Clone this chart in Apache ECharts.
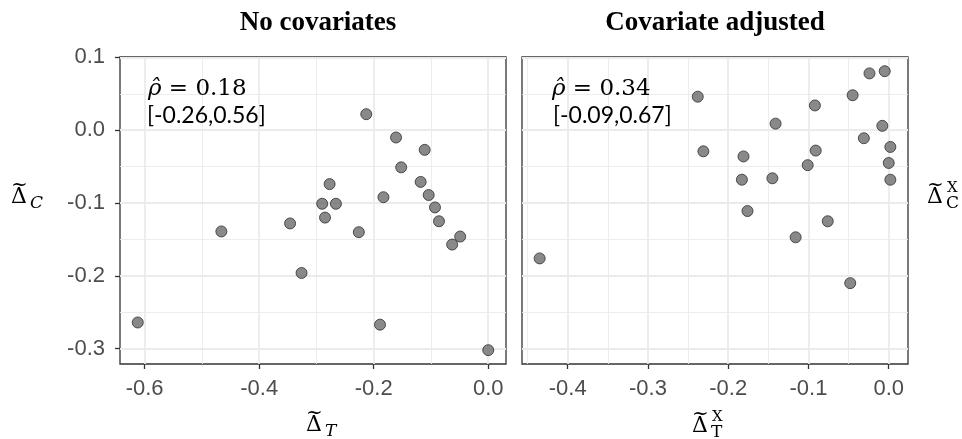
<!DOCTYPE html>
<html>
<head>
<meta charset="utf-8">
<script src="https://cdn.jsdelivr.net/npm/echarts@6/dist/echarts.min.js"></script>
<style>
html, body { margin: 0; padding: 0; background: #fff; }
#chart { width: 962px; height: 439px; }
</style>
</head>
<body>
<div id="chart"></div>
<script>
// no covariates panel
var rawT = [-0.213, -0.161, -0.111, -0.152, -0.118, -0.277, -0.104, -0.183, -0.290, -0.266, -0.093,
            -0.086, -0.285, -0.346, -0.466, -0.226, -0.049, -0.063, -0.326, -0.612, -0.189, 0.000];
var rawC = [0.022, -0.010, -0.027, -0.051, -0.071, -0.074, -0.089, -0.092, -0.101, -0.101, -0.106,
            -0.125, -0.120, -0.128, -0.139, -0.140, -0.146, -0.157, -0.196, -0.264, -0.267, -0.302];
// covariate adjusted panel
var adjT = [-0.024, -0.005, -0.238, -0.045, -0.092, -0.141, -0.008, -0.031, 0.002, -0.231, -0.091,
            -0.181, 0.000, -0.101, -0.145, -0.183, 0.002, -0.176, -0.076, -0.116, -0.435, -0.048];
var adjC = [0.078, 0.081, 0.046, 0.048, 0.034, 0.009, 0.006, -0.011, -0.023, -0.029, -0.028,
            -0.036, -0.045, -0.048, -0.066, -0.068, -0.068, -0.111, -0.125, -0.147, -0.176, -0.210];

// tick positions (major with labels, minor grid only)
var rawXMajor = [-0.6, -0.4, -0.2, 0.0];
var rawXMinor = [-0.5, -0.3, -0.1];
var adjXMajor = [-0.4, -0.3, -0.2, -0.1, 0.0];
var adjXMinor = [-0.45, -0.35, -0.25, -0.15, -0.05];
var yMajor = [0.1, 0.0, -0.1, -0.2, -0.3];
var yMinor = [0.05, -0.05, -0.15, -0.25];

var rawRho = '0.18', rawCI = '[-0.26,0.56]';
var adjRho = '0.34', adjCI = '[-0.09,0.67]';

function zip(a, b) {
    var out = [];
    for (var i = 0; i < a.length; i++) out.push([a[i], b[i]]);
    return out;
}

function axis(grid, lo, hi, ticks, major, labels, margin) {
    return {
        type: 'value', gridIndex: grid, min: lo, max: hi,
        axisLine: {show: false, onZero: false},
        axisTick: {show: labels, length: 5, customValues: ticks, lineStyle: {color: '#333', width: 1.3}},
        axisLabel: {
            show: labels, customValues: ticks, color: '#4d4d4d', fontSize: 22,
            fontFamily: 'Liberation Sans', margin: margin || 10,
            formatter: function (v) { return v.toFixed(1); }
        },
        splitLine: {show: true, lineStyle: {color: '#ebebeb', width: major ? 1.8 : 0.9}}
    };
}

// text helper: base is the baseline y
function txt(x, base, s, size, family, extra) {
    var st = {text: s, font: (extra && extra.italic ? 'italic ' : '') + (extra && extra.bold ? 'bold ' : '') + size + 'px "' + family + '"',
              fill: '#000', align: (extra && extra.align) || 'left', verticalAlign: 'middle'};
    return {type: 'text', x: x, y: base - 0.35 * size, style: st, z: 100};
}

function delta(x, base, sub, sup, italic) {
    var els = [
        txt(x, base, 'Δ', 22, 'DejaVu Serif'),
        txt(x + 8.5, base - 12, '~', 20, 'DejaVu Serif', {align: 'center'})
    ];
    if (sub) els.push(txt(x + 19, base + 5, sub, 17, 'DejaVu Serif', {italic: italic}));
    if (sup) els.push(txt(x + 20, base - 12, sup, 15, 'DejaVu Serif'));
    return els;
}

function rho(x, base, val) {
    return {
        type: 'text', x: x, y: base - 8, z: 100,
        style: {
            text: '{i|ρ\u0302}{n| = ' + val + '}', verticalAlign: 'middle',
            rich: {
                i: {fontFamily: 'DejaVu Serif', fontSize: 23, fontStyle: 'italic', fill: '#000'},
                n: {fontFamily: 'DejaVu Serif', fontSize: 23, fill: '#000'}
            }
        }
    };
}

var graphics = [
    txt(318, 32, 'No covariates', 27, 'Liberation Serif', {bold: true, align: 'center'}),
    txt(715, 32, 'Covariate adjusted', 27, 'Liberation Serif', {bold: true, align: 'center'}),
    rho(148, 97, rawRho),
    txt(147, 124, rawCI, 23, 'Lato'),
    rho(552, 97, adjRho),
    txt(553, 124, adjCI, 23, 'Lato')
];
graphics = graphics.concat(delta(11, 205, 'C', null, true));
graphics = graphics.concat(delta(306, 433, 'T', null, true));
graphics = graphics.concat(delta(692, 434, 'T', 'X', false));
graphics = graphics.concat(delta(927, 205, 'C', 'X', false));

var myChart = echarts.init(document.getElementById('chart'));
var pointStyle = {color: '#6b6b6b', borderColor: '#2e2e2e', borderWidth: 1};

option = {
    animation: false,
    grid: [
        {left: 120, top: 57, width: 386, height: 307, show: true, borderColor: '#333', borderWidth: 1.3, backgroundColor: 'transparent'},
        {left: 522, top: 57, width: 386, height: 307, show: true, borderColor: '#333', borderWidth: 1.3, backgroundColor: 'transparent'}
    ],
    xAxis: [
        axis(0, -0.643, 0.031, rawXMajor, true, true, 14),
        axis(0, -0.643, 0.031, rawXMinor, false, false),
        axis(1, -0.457, 0.024, adjXMajor, true, true, 14),
        axis(1, -0.457, 0.024, adjXMinor, false, false)
    ],
    yAxis: [
        axis(0, -0.321, 0.1005, yMajor, true, true, 15),
        axis(0, -0.321, 0.1005, yMinor, false, false),
        axis(1, -0.321, 0.1005, yMajor, true, false),
        axis(1, -0.321, 0.1005, yMinor, false, false)
    ],
    series: [
        {type: 'scatter', xAxisIndex: 0, yAxisIndex: 0, symbolSize: 11, itemStyle: pointStyle, data: zip(rawT, rawC)},
        {type: 'scatter', xAxisIndex: 2, yAxisIndex: 2, symbolSize: 11, itemStyle: pointStyle, data: zip(adjT, adjC)}
    ],
    graphic: graphics
};

myChart.setOption(option);
</script>
</body>
</html>
